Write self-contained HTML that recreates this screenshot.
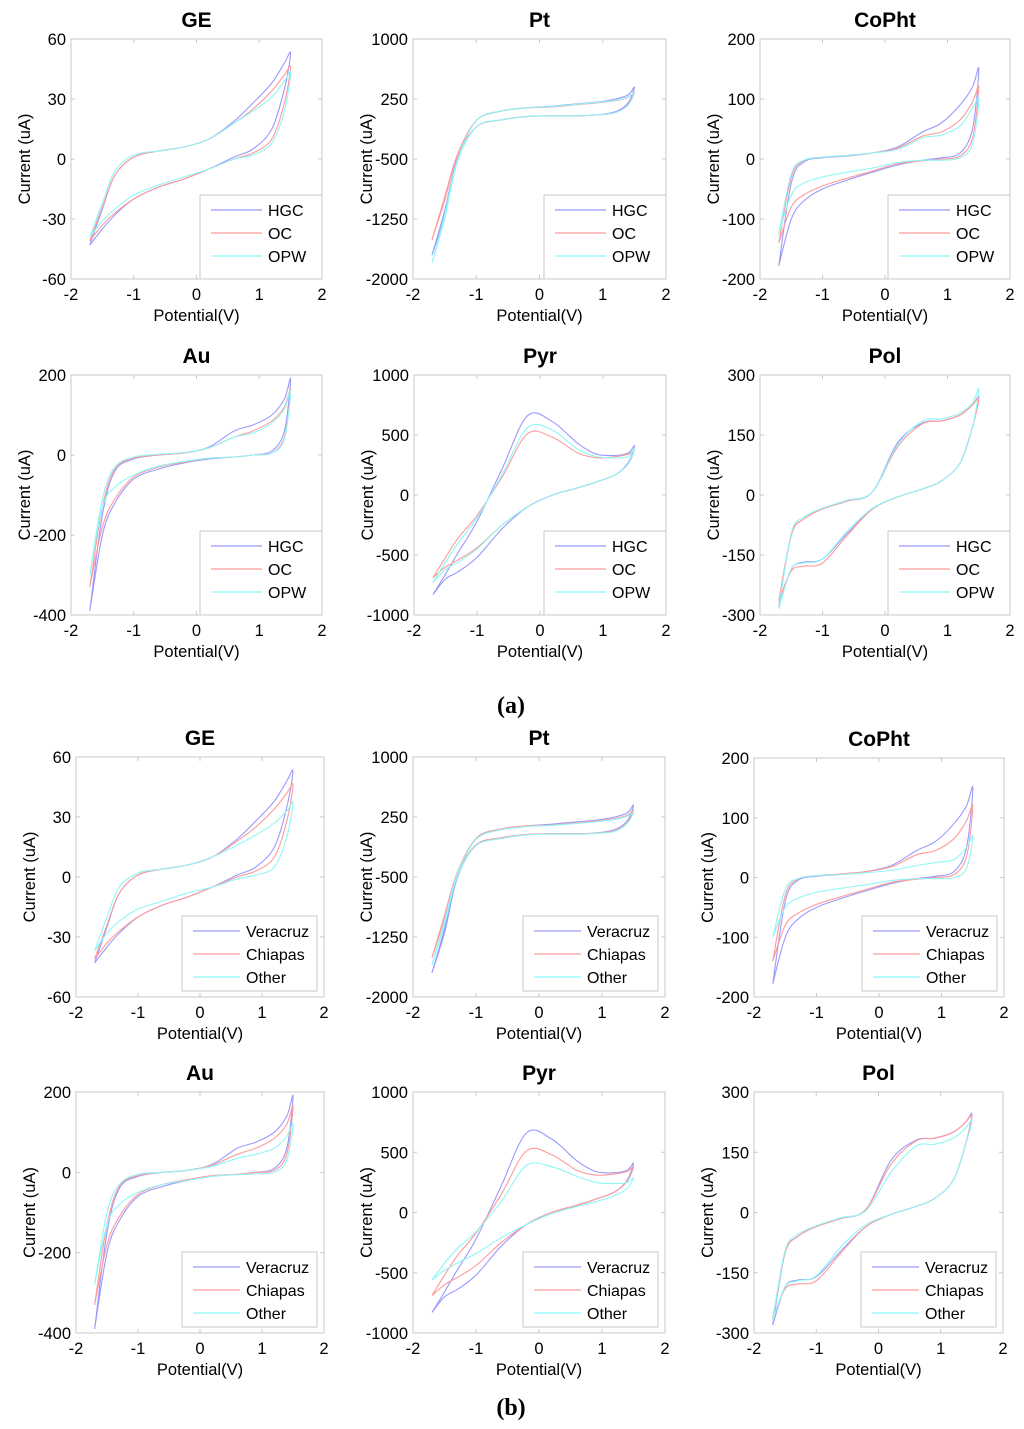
<!DOCTYPE html>
<html><head><meta charset="utf-8">
<style>
html,body{margin:0;padding:0;background:#fff;}
svg{display:block;font-family:"Liberation Sans",Arial,sans-serif;}
</style></head>
<body>
<svg id="fig" width="1024" height="1429" viewBox="0 0 1024 1429">
<text x="511" y="713" text-anchor="middle" font-family="Liberation Serif,serif" font-weight="bold" font-size="24">(a)</text>
<text x="511" y="1415" text-anchor="middle" font-family="Liberation Serif,serif" font-weight="bold" font-size="24">(b)</text>
</svg>
<script>
// Potential grid (V)
const potentials = [-1.7,-1.5,-1.3,-1.0,-0.6,-0.2,0.2,0.6,0.9,1.2,1.4,1.5];
const xTicks = [-2,-1,0,1,2];
const legendA = ["HGC","OC","OPW"];
const legendB = ["Veracruz","Chiapas","Other"];

// GE
const geS1Up = [-43,-25,-8,1,4,6,10,19,28,38,48,53];
const geS1Lo = [-43,-35,-28,-20,-14,-10,-5,1,5,15,35,53];
const geS2Up = [-41,-24,-8,1,4,6,10,18,25,34,42,46];
const geS2Lo = [-41,-33,-27,-20,-14,-10,-5,0,3,10,28,46];
const geOpwUp = [-39,-22,-6,2,4,6,10,18,24,31,39,43];
const geOpwLo = [-39,-31,-25,-18,-13,-9,-5,0,2,8,24,43];
const geOthUp = [-37,-20,-5,2,4,6,10,16,21,27,33,37];
const geOthLo = [-37,-28,-22,-16,-12,-8,-5,-1,1,5,20,37];
const geTicks = [-60,-30,0,30,60];
// Pt
const ptS1Up = [-1700,-1150,-500,-20,100,140,160,190,210,250,300,400];
const ptS1Lo = [-1700,-1200,-520,-100,-10,30,40,40,50,90,200,400];
const ptS2Up = [-1510,-980,-450,-20,100,140,150,180,200,230,270,340];
const ptS2Lo = [-1510,-1020,-470,-100,-10,30,40,40,50,80,180,340];
const ptOpwUp = [-1800,-1200,-520,-20,100,140,155,185,205,235,275,330];
const ptOpwLo = [-1800,-1250,-540,-100,-10,30,40,40,50,80,170,330];
const ptOthUp = [-1600,-1050,-470,-30,90,130,145,170,190,220,260,310];
const ptOthLo = [-1600,-1100,-500,-110,-20,25,35,35,45,70,170,310];
const ptTicks = [-2000,-1250,-500,250,1000];
// CoPht
const coS1Up = [-178,-40,-5,2,5,10,20,45,60,90,120,150];
const coS1Lo = [-178,-100,-70,-50,-35,-22,-10,-2,2,10,50,150];
const coS2Up = [-140,-30,-3,3,6,10,18,38,45,65,95,120];
const coS2Lo = [-140,-80,-60,-45,-32,-20,-8,-3,0,5,35,120];
const coOpwUp = [-125,-25,-2,3,6,10,16,35,40,55,85,100];
const coOpwLo = [-125,-60,-40,-30,-22,-15,-6,-2,-2,2,25,100];
const coOthUp = [-100,-20,-2,3,5,8,12,20,25,30,50,70];
const coOthLo = [-100,-50,-35,-25,-18,-12,-5,-2,-2,0,15,70];
const coTicks = [-200,-100,0,100,200];
// Au
const auS1Up = [-390,-150,-40,-10,0,5,20,60,75,100,140,190];
const auS1Lo = [-390,-200,-120,-60,-35,-20,-10,-5,0,10,60,190];
const auS2Up = [-330,-130,-35,-8,0,5,18,45,60,85,120,165];
const auS2Lo = [-330,-180,-110,-55,-30,-18,-8,-5,0,5,45,165];
const auOpwUp = [-300,-110,-30,-5,2,6,18,45,55,80,115,160];
const auOpwLo = [-300,-130,-80,-50,-28,-16,-8,-5,0,5,40,160];
const auOthUp = [-280,-100,-30,-5,0,5,15,35,45,60,90,120];
const auOthLo = [-280,-130,-80,-50,-30,-20,-10,-6,-4,0,30,120];
const auTicks = [-400,-200,0,200];
// Pyr
const pyS1Up = [-830,-660,-480,-220,220,660,610,430,340,330,350,410];
const pyS1Lo = [-830,-700,-640,-520,-280,-100,0,60,110,170,270,410];
const pyS2Up = [-690,-520,-360,-170,150,510,480,350,310,320,340,380];
const pyS2Lo = [-690,-600,-540,-440,-250,-100,0,60,110,170,260,380];
const pyOpwUp = [-730,-560,-400,-190,170,560,540,380,320,310,320,390];
const pyOpwLo = [-730,-620,-560,-450,-250,-100,0,60,110,170,260,390];
const pyOthUp = [-560,-420,-300,-160,90,390,380,300,250,240,250,290];
const pyOthLo = [-560,-480,-420,-340,-210,-100,-10,50,90,140,200,290];
const pyTicks = [-1000,-500,0,500,1000];
// Pol
const poS1Up = [-280,-100,-60,-35,-15,8,130,180,185,200,225,245];
const poS1Lo = [-280,-185,-168,-160,-95,-35,-5,15,35,80,170,245];
const poS2Up = [-265,-100,-60,-35,-15,8,120,178,185,200,225,240];
const poS2Lo = [-265,-190,-178,-170,-100,-35,-5,15,35,80,170,240];
const poOpwUp = [-285,-95,-55,-33,-13,8,125,185,190,205,230,265];
const poOpwLo = [-285,-185,-170,-160,-90,-33,-5,15,35,80,170,265];
const poOthUp = [-270,-95,-55,-33,-13,5,100,165,170,185,210,230];
const poOthLo = [-270,-185,-170,-158,-85,-30,-5,15,35,80,170,230];
const poTicks = [-300,-150,0,150,300];

const COLORS = ["#9a9aff","#ff9a9a","#8ef6f6"];
const NS = "http://www.w3.org/2000/svg";
const svg = document.getElementById("fig");

function mk(tag, attrs, parent){
  const e = document.createElementNS(NS, tag);
  for (const k in attrs) e.setAttribute(k, attrs[k]);
  (parent||svg).appendChild(e);
  return e;
}

function spline(pts){
  let d = "M" + pts[0][0].toFixed(1) + "," + pts[0][1].toFixed(1);
  for (let i=0;i<pts.length-1;i++){
    const p0 = pts[Math.max(i-1,0)], p1 = pts[i], p2 = pts[i+1], p3 = pts[Math.min(i+2,pts.length-1)];
    const c1x = p1[0]+(p2[0]-p0[0])/6, c1y = p1[1]+(p2[1]-p0[1])/6;
    const c2x = p2[0]-(p3[0]-p1[0])/6, c2y = p2[1]-(p3[1]-p1[1])/6;
    d += "C"+c1x.toFixed(1)+","+c1y.toFixed(1)+" "+c2x.toFixed(1)+","+c2y.toFixed(1)+" "+p2[0].toFixed(1)+","+p2[1].toFixed(1);
  }
  return d;
}

function plot(cfg){
  const g = mk("g", {});
  
  
  const {x0,x1,y0,y1} = cfg;
  const ymin = cfg.ticks[0], ymax = cfg.ticks[cfg.ticks.length-1];
  const sx = v => x0 + (v+2)/4*(x1-x0);
  const sy = v => y1 - (v-ymin)/(ymax-ymin)*(y1-y0);
  const box = mk("rect", {x:x0, y:y0, width:x1-x0, height:y1-y0, fill:"#fff", stroke:"#c8c8c8", "stroke-width":1}, g);
  
  
  const t = mk("text", {x:(x0+x1)/2, y:y0-12, "text-anchor":"middle", "font-weight":"bold", "font-size":21}, g);
  t.textContent = cfg.title;
  
  
  xTicks.forEach(v=>{
    const px = sx(v);
    mk("line", {x1:px, x2:px, y1:y1, y2:y1-4, stroke:"#c8c8c8"}, g);
    mk("line", {x1:px, x2:px, y1:y0, y2:y0+4, stroke:"#c8c8c8"}, g);
    const tl = mk("text", {x:px, y:y1+21, "text-anchor":"middle", "font-size":16.5}, g);
    tl.textContent = v;
    
    
  });
  cfg.ticks.forEach(v=>{
    const py = sy(v);
    mk("line", {x1:x0, x2:x0+4, y1:py, y2:py, stroke:"#c8c8c8"}, g);
    mk("line", {x1:x1, x2:x1-4, y1:py, y2:py, stroke:"#c8c8c8"}, g);
    const tl = mk("text", {x:x0-5, y:py+6, "text-anchor":"end", "font-size":16.5}, g);
    tl.textContent = v;
    
    
  });
  const xl = mk("text", {x:(x0+x1)/2, y:y1+42, "text-anchor":"middle", "font-size":16.5}, g);
  xl.textContent = "Potential(V)";
  
  
  const yx = x0 - 41, yy = (y0+y1)/2;
  const yl = mk("text", {x:yx, y:yy, "text-anchor":"middle", "font-size":16.5, transform:"rotate(-90 "+yx+" "+yy+")"}, g);
  yl.textContent = "Current (uA)";
  
  
  cfg.series.forEach((s,i)=>{
    const pts = [];
    potentials.forEach((e,k)=>pts.push([sx(e), sy(s.up[k])]));
    for (let k=potentials.length-2;k>=0;k--) pts.push([sx(potentials[k]), sy(s.lo[k])]);
    const p = mk("path", {d:spline(pts), fill:"none", stroke:COLORS[i], "stroke-width":1.1}, g);
    
    
  });
  const L = cfg.leg;
  const lg = mk("g", {}, g);
  
  
  mk("rect", {x:L.x, y:L.y, width:L.w, height:L.h, fill:"#fff", stroke:"#c8c8c8"}, lg);
  cfg.legend.forEach((lab,i)=>{
    const ry = L.y + L.r0 + i*L.dr;
    mk("line", {x1:L.x+11, x2:L.x+L.lx, y1:ry, y2:ry, stroke:COLORS[i], "stroke-width":1.2}, lg);
    const tx = mk("text", {x:L.x+L.lx+6, y:ry+6, "font-size":16}, lg);
    tx.textContent = lab;
    
    
  });
}

function legA(x1,y1){ return {x:x1-122, y:y1-84, w:122, h:84, r0:15, dr:23, lx:62}; }
function legB(x1,y1){ return {x:x1-142, y:y1-81, w:135, h:75, r0:15, dr:23, lx:58}; }

const panels = [
 {name:"a-ge", title:"GE", x0:71,x1:322,y0:39,y1:279, ticks:geTicks, legend:legendA, series:[{up:geS1Up,lo:geS1Lo},{up:geS2Up,lo:geS2Lo},{up:geOpwUp,lo:geOpwLo}], a:true},
 {name:"a-pt", title:"Pt", x0:413,x1:666,y0:39,y1:279, ticks:ptTicks, legend:legendA, series:[{up:ptS1Up,lo:ptS1Lo},{up:ptS2Up,lo:ptS2Lo},{up:ptOpwUp,lo:ptOpwLo}], a:true},
 {name:"a-copht", title:"CoPht", x0:760,x1:1010,y0:39,y1:279, ticks:coTicks, legend:legendA, series:[{up:coS1Up,lo:coS1Lo},{up:coS2Up,lo:coS2Lo},{up:coOpwUp,lo:coOpwLo}], a:true},
 {name:"a-au", title:"Au", x0:71,x1:322,y0:375,y1:615, ticks:auTicks, legend:legendA, series:[{up:auS1Up,lo:auS1Lo},{up:auS2Up,lo:auS2Lo},{up:auOpwUp,lo:auOpwLo}], a:true},
 {name:"a-pyr", title:"Pyr", x0:414,x1:666,y0:375,y1:615, ticks:pyTicks, legend:legendA, series:[{up:pyS1Up,lo:pyS1Lo},{up:pyS2Up,lo:pyS2Lo},{up:pyOpwUp,lo:pyOpwLo}], a:true},
 {name:"a-pol", title:"Pol", x0:760,x1:1010,y0:375,y1:615, ticks:poTicks, legend:legendA, series:[{up:poS1Up,lo:poS1Lo},{up:poS2Up,lo:poS2Lo},{up:poOpwUp,lo:poOpwLo}], a:true},
 {name:"b-ge", title:"GE", x0:76,x1:324,y0:757,y1:997, ticks:geTicks, legend:legendB, series:[{up:geS1Up,lo:geS1Lo},{up:geS2Up,lo:geS2Lo},{up:geOthUp,lo:geOthLo}], a:false},
 {name:"b-pt", title:"Pt", x0:413,x1:665,y0:757,y1:997, ticks:ptTicks, legend:legendB, series:[{up:ptS1Up,lo:ptS1Lo},{up:ptS2Up,lo:ptS2Lo},{up:ptOthUp,lo:ptOthLo}], a:false},
 {name:"b-copht", title:"CoPht", x0:754,x1:1004,y0:758,y1:997, ticks:coTicks, legend:legendB, series:[{up:coS1Up,lo:coS1Lo},{up:coS2Up,lo:coS2Lo},{up:coOthUp,lo:coOthLo}], a:false},
 {name:"b-au", title:"Au", x0:76,x1:324,y0:1092,y1:1333, ticks:auTicks, legend:legendB, series:[{up:auS1Up,lo:auS1Lo},{up:auS2Up,lo:auS2Lo},{up:auOthUp,lo:auOthLo}], a:false},
 {name:"b-pyr", title:"Pyr", x0:413,x1:665,y0:1092,y1:1333, ticks:pyTicks, legend:legendB, series:[{up:pyS1Up,lo:pyS1Lo},{up:pyS2Up,lo:pyS2Lo},{up:pyOthUp,lo:pyOthLo}], a:false},
 {name:"b-pol", title:"Pol", x0:754,x1:1003,y0:1092,y1:1333, ticks:poTicks, legend:legendB, series:[{up:poS1Up,lo:poS1Lo},{up:poS2Up,lo:poS2Lo},{up:poOthUp,lo:poOthLo}], a:false}
];
panels.forEach(p=>{
  p.leg = p.a ? legA(p.x1, p.y1) : legB(p.x1, p.y1);
  plot(p);
});
</script>
</body></html>
